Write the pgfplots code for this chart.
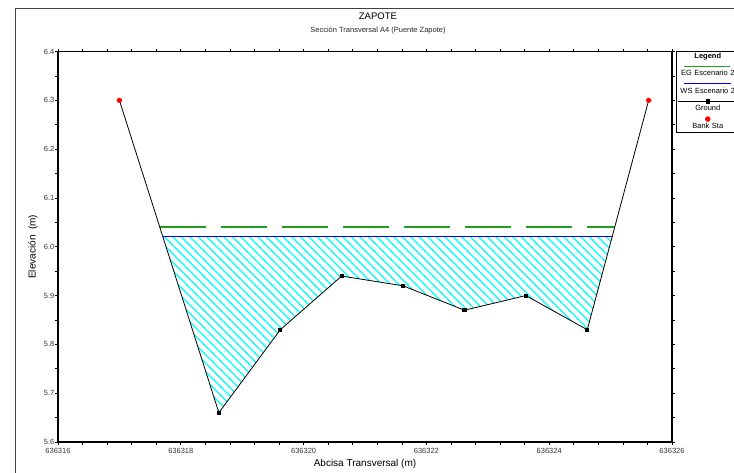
\documentclass[border=0pt]{standalone}
\usepackage{fontspec}
\setmainfont{Liberation Sans}
\usepackage{pgfplots}
\pgfplotsset{compat=1.18}
\usetikzlibrary{patterns}
\definecolor{egreen}{RGB}{30,160,30}
\definecolor{wsblue}{RGB}{0,0,255}
\definecolor{hatch}{RGB}{0,255,255}
% diagonal hatch, lines falling to the right
\pgfdeclarepatternformonly{hatchnw}{\pgfqpoint{-1pt}{-1pt}}{\pgfqpoint{9.5pt}{9.5pt}}{\pgfqpoint{8.5pt}{8.5pt}}{%
  \pgfsetlinewidth{1.1pt}%
  \pgfpathmoveto{\pgfqpoint{-0.5pt}{9pt}}%
  \pgfpathlineto{\pgfqpoint{9pt}{-0.5pt}}%
  \pgfusepath{stroke}}

\begin{document}
\begin{tikzpicture}
\begin{axis}[
  name=ax, at={(0,0)}, anchor=south west,
  scale only axis, width=614pt, height=390.5pt,
  xmin=0, xmax=10, ymin=5.6, ymax=6.4,
  xtick={0,2,4,6,8,10},
  xticklabels={636316,636318,636320,636322,636324,636326},
  minor x tick num=4,
  ytick={5.6,5.7,5.8,5.9,6.0,6.1,6.2,6.3,6.4},
  minor y tick num=1,
  /pgf/number format/assume math mode=true,
  tick align=outside, major tick length=2.5pt, minor tick length=2.5pt,
  tick style={black, line width=0.6pt},
  axis line style={line width=1.2pt},
  ticklabel style={font=\fontsize{7.5}{9}\selectfont, text=black!80},
  yticklabel style={/pgf/number format/fixed, /pgf/number format/fixed zerofill,
    /pgf/number format/precision=1, inner sep=1pt},
  xlabel={Abcisa Transversal (m)},
  ylabel={Elevación\ \ (m)},
  label style={font=\fontsize{7.5}{9}\selectfont, text=black!80},
  every axis x label/.style={at={(axis description cs:0.5,-0.0563)}, anchor=center},
  every axis y label/.style={at={(axis description cs:-0.0407,0.5)}, anchor=center, rotate=90},
  title={ZAPOTE},
  every axis title/.style={at={(axis description cs:0.521,1.091)}, anchor=center, font=\fontsize{9.5}{11}\selectfont},
  legend style={at={(axis description cs:1.0065,1.0013)}, anchor=north west,
    draw=black, line width=0.6pt, inner sep=1.5pt,
    font=\fontsize{7.5}{9}\selectfont, cells={anchor=center},
    nodes={text width=60pt, align=center, inner sep=0pt, text height=14pt, text depth=2.5pt},
    row sep=1.2pt, column sep=0pt},
]
\addlegendimage{empty legend}
\addlegendentry[text height=6pt, text depth=1.5pt]{\textbf{Legend}}

% EG
\addplot[egreen, line width=1.5pt, dash pattern=on 46pt off 15pt,
  legend image code/.code={\draw[egreen, line width=1pt, overlay] (6.5pt,3.75pt) -- (53.5pt,3.75pt);}]
  coordinates {(1.66,6.04) (9.07,6.04)};
\addlegendentry{EG Escenario 2}

% water area under WS
\addplot[pattern=hatchnw, pattern color=hatch, draw=none, forget plot]
  coordinates {(1.709,6.02) (2.62,5.66) (3.62,5.83) (4.62,5.94) (5.62,5.92) (6.62,5.87) (7.62,5.90) (8.62,5.83) (9.024,6.02)} --cycle;

% WS
\addplot[wsblue, line width=1pt,
  legend image code/.code={\draw[wsblue, line width=1pt, overlay] (6.5pt,3.75pt) -- (53.5pt,3.75pt);}]
  coordinates {(1.709,6.02) (9.024,6.02)};
\addlegendentry{WS Escenario 2}

% Ground
\addplot[black, line width=0.8pt, mark=square*, mark size=1.6pt, mark indices={2,3,4,5,6,7,8},
  legend image code/.code={\draw[black, line width=0.8pt, overlay] (0pt,3.75pt) -- (62pt,3.75pt);
    \fill[black, overlay] (28.4pt,2.15pt) rectangle (31.6pt,5.35pt);}]
  coordinates {(1.00,6.30) (2.62,5.66) (3.62,5.83) (4.62,5.94) (5.62,5.92) (6.62,5.87) (7.62,5.90) (8.62,5.83) (9.62,6.30)};
\addlegendentry{Ground}

% Bank stations
\addplot[only marks, mark=*, red, mark size=2.4pt,
  legend image code/.code={\fill[red, overlay] (30pt,3.75pt) circle (2.4pt);}]
  coordinates {(1.00,6.30) (9.62,6.30)};
\addlegendentry{Bank Sta}
\end{axis}

\node[font=\fontsize{7.5}{9}\selectfont, text=black!85] at ([shift={(320pt,411pt)}]ax.south west) {Sección Transversal A4 (Puente Zapote)};
\draw[black!75, line width=0.8pt] ([shift={(-43pt,-40pt)}]ax.south west) -- ([shift={(-43pt,434pt)}]ax.south west) -- ([shift={(700pt,434pt)}]ax.south west);

\pgfresetboundingbox
\path ([shift={(-58pt,-30pt)}]ax.south west) rectangle ([shift={(676pt,442pt)}]ax.south west);
\end{tikzpicture}
\end{document}
